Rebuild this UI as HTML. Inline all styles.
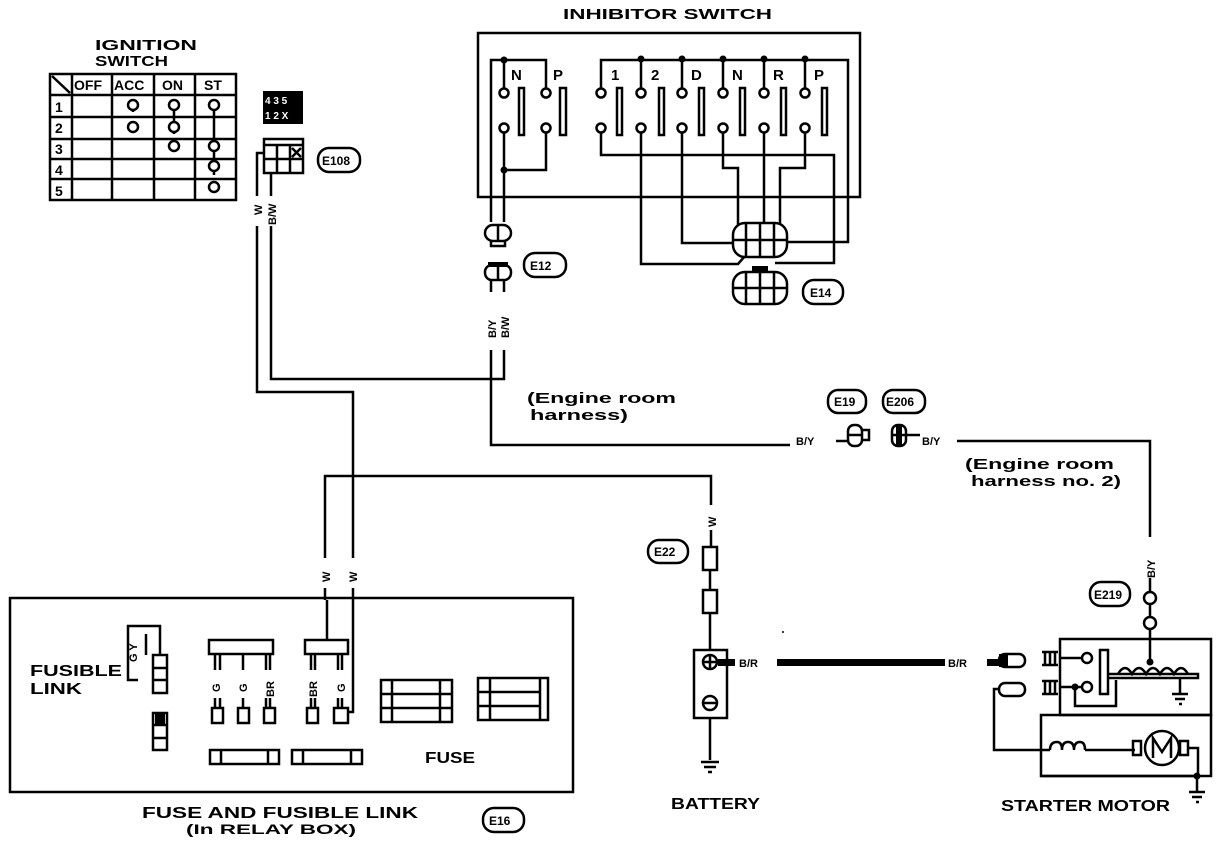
<!DOCTYPE html>
<html><head><meta charset="utf-8"><style>
html,body{margin:0;padding:0;background:#fff}
svg{display:block}
text{font-family:"Liberation Sans",sans-serif;font-weight:bold;fill:#000}
</style></head><body>
<svg width="1232" height="844" viewBox="0 0 1232 844" xmlns="http://www.w3.org/2000/svg">
<g fill="none" stroke="#000" stroke-width="2.5">
<!-- ignition table -->
<rect x="50" y="74" width="186" height="126"/>
<path d="M72 74V200M112 74V200M154 74V200M195 74V200M50 95H236M50 117H236M50 139H236M50 159H236M50 179H236M52 76L70 93"/>
<path d="M133 100V112M174 100V134M214 100V175"/>
<circle cx="133" cy="105" r="5" fill="#fff"/><circle cx="133" cy="127" r="5" fill="#fff"/>
<circle cx="174" cy="105" r="5" fill="#fff"/><circle cx="174" cy="127" r="5" fill="#fff"/><circle cx="174" cy="146" r="5" fill="#fff"/>
<circle cx="214" cy="105" r="5" fill="#fff"/><circle cx="214" cy="146" r="5" fill="#fff"/><circle cx="214" cy="166" r="5" fill="#fff"/><circle cx="214" cy="187" r="5" fill="#fff"/>
<!-- E108 -->
<rect x="264" y="139" width="39" height="34"/><path d="M264 145H303M277 145V173M290 145V173M264 159H303M292 148L301 157M301 148L292 157"/>
<path d="M264 153H257V392H353V600M271 173V379H504V350M491 350V445H790"/>
<rect x="318" y="148" width="42" height="24" rx="11"/>
<!-- inhibitor -->
<rect x="478" y="33" width="382" height="164"/>
<path d="M491 222V60H546V88M504 60V88M504 133V170H546V133M504 170V222"/>
<rect x="519" y="88" width="5" height="47"/><rect x="560" y="88" width="6" height="47"/>
<path d="M601 88V60H848V242H785M641 60V88M682 60V88M723 60V88M764 60V88M805 60V88"/>
<path d="M601 132V155H834V263H775M641 132V264H738L745 256M682 132V243H735M723 132V168H738V225M764 132V225M805 132V168H780V225"/>
<rect x="617" y="88" width="5" height="47"/><rect x="659" y="88" width="5" height="47"/><rect x="699" y="88" width="5" height="47"/><rect x="740" y="88" width="5" height="47"/><rect x="781" y="88" width="5" height="47"/><rect x="822" y="88" width="5" height="47"/>
<g fill="#fff"><circle cx="504" cy="93" r="4.5"/><circle cx="546" cy="93" r="4.5"/><circle cx="504" cy="128" r="4.5"/><circle cx="546" cy="128" r="4.5"/>
<circle cx="601" cy="93" r="4.5"/><circle cx="641" cy="93" r="4.5"/><circle cx="682" cy="93" r="4.5"/><circle cx="723" cy="93" r="4.5"/><circle cx="764" cy="93" r="4.5"/><circle cx="805" cy="93" r="4.5"/>
<circle cx="601" cy="128" r="4.5"/><circle cx="641" cy="128" r="4.5"/><circle cx="682" cy="128" r="4.5"/><circle cx="723" cy="128" r="4.5"/><circle cx="764" cy="128" r="4.5"/><circle cx="805" cy="128" r="4.5"/></g>
<!-- E12 -->
<rect x="485" y="225" width="26" height="16" rx="8" fill="#fff"/><path d="M498 225V241M491 241V246H505V241"/>
<rect x="485" y="265" width="26" height="15" rx="7" fill="#fff"/><path d="M498 265V280M491 280V292M504 280V292"/>
<rect x="524" y="253" width="42" height="24" rx="11"/>
<!-- E14 -->
<rect x="733" y="223" width="54" height="34" rx="12" fill="#fff"/><path d="M746 223V257M760 223V257M774 223V257M733 240H787"/>
<rect x="733" y="272" width="54" height="32" rx="12"/><path d="M746 272V304M760 272V304M774 272V304M733 288H787"/>
<rect x="803" y="280" width="40" height="24" rx="11"/>
<!-- engine room -->
<path d="M957 441H1150V537M1150 578V592M1150 604V616M1150 628V660"/>
<rect x="828" y="390" width="38" height="23" rx="10"/><rect x="883" y="390" width="42" height="23" rx="10"/>
<rect x="848" y="425" width="14" height="21" rx="6"/><path d="M848 435H862M862 430H869V440H862"/>
<rect x="892" y="425" width="14" height="21" rx="6"/><path d="M892 435H906H920"/>
<path d="M836 441H848"/>
<!-- E219 -->
<rect x="1090" y="582" width="40" height="24" rx="11"/>
<circle cx="1150" cy="598" r="6"/><circle cx="1150" cy="623" r="6"/>
<!-- W to battery -->
<path d="M325 600V476H711V505M711 530V547M710 570V590M710 613V650M710 718V760"/>
<rect x="648" y="540" width="40" height="23" rx="11"/>
<rect x="703" y="547" width="14" height="23"/><rect x="703" y="590" width="14" height="23"/>
<rect x="694" y="650" width="33" height="68"/>
<circle cx="710" cy="662" r="7"/><path d="M703 662H717M710 655V669"/>
<circle cx="710" cy="703" r="7"/><path d="M703 703H717"/>
<path d="M701 762H719M704 767H716M708 772H712"/>
<!-- starter -->
<rect x="1060" y="639" width="151" height="76"/><rect x="1041" y="715" width="170" height="61"/>
<path d="M1042 652H1058M1042 665H1058M1045 652V665M1050 652V665M1055 652V665"/>
<path d="M1042 681H1058M1042 694H1058M1045 681V694M1050 681V694M1055 681V694"/>
<path d="M1060 658H1082M1060 687H1082M1075 687V706H1116V680"/>
<circle cx="1087" cy="658" r="5"/><circle cx="1087" cy="687" r="5"/>
<rect x="1100" y="650" width="8" height="44"/><path d="M1108 674H1198V678H1108"/>
<path d="M1118 674Q1125 662 1132 674Q1139 662 1146 674Q1153 662 1160 674Q1167 662 1174 674Q1181 662 1188 674"/>
<path d="M1180 678V694M1172 694H1188M1175 699H1185M1179 704H1182"/>
<rect x="999" y="654" width="26" height="13" rx="6"/><rect x="999" y="683" width="26" height="13" rx="6"/>
<path d="M999 689H994V750H1050M1085 750H1135M1188 748H1198V776H1041M1197 776V792M1189 792H1205M1192 797H1202M1196 802H1199"/>
<path d="M1050 750Q1050 742 1057 742Q1062 742 1062 750M1062 750Q1062 742 1068 742Q1074 742 1074 750M1074 750Q1074 742 1080 742Q1085 742 1085 750"/>
<circle cx="1162" cy="748" r="17"/><rect x="1133" y="741" width="8" height="14"/><rect x="1180" y="741" width="8" height="14"/>
<path d="M1153 758V738L1162 752L1171 738V758"/>
<!-- fuse box -->
<rect x="10" y="598" width="563" height="194"/>
<path d="M327 600V640M353 600V712H348"/>
<path d="M138 680H128V626H160V655M146 655V634"/>
<rect x="153" y="655" width="14" height="38"/><path d="M153 668H167M153 680H167"/>
<rect x="153" y="713" width="14" height="37"/><path d="M153 725H167M153 738H167"/>
<rect x="209" y="640" width="64" height="14"/><rect x="305" y="640" width="43" height="14"/>
<path d="M215 654V670M220 654V670M243 654V670M270 654V670M266 654V670M311 654V670M315 654V670M338 654V670M342 654V670"/>
<path d="M215 698V708M220 698V708M243 698V708M270 698V708M266 698V708M311 698V708M315 698V708M338 698V708M342 698V708"/>
<rect x="212" y="708" width="11" height="15"/><rect x="238" y="708" width="11" height="15"/><rect x="264" y="708" width="11" height="15"/><rect x="307" y="708" width="11" height="15"/><rect x="334" y="708" width="14" height="15"/>
<rect x="381" y="680" width="71" height="42"/><path d="M381 694H452M381 708H452M392 680V722M440 680V722"/>
<rect x="478" y="678" width="70" height="42"/><path d="M478 692H540M478 706H540M490 678V720M540 678V720"/>
<rect x="210" y="750" width="69" height="14"/><path d="M221 750V764M268 750V764"/>
<rect x="292" y="750" width="70" height="14"/><path d="M303 750V764M351 750V764"/>
<rect x="483" y="808" width="41" height="24" rx="11"/>
</g>
<!-- solid items -->
<rect x="263" y="91" width="40" height="33"/>
<text x="265" y="104" font-size="10" style="fill:#fff">4 3 5</text>
<text x="265" y="119" font-size="10" style="fill:#fff">1 2 X</text>
<rect x="488" y="262" width="20" height="5"/><rect x="752" y="266" width="16" height="6"/>
<path d="M718 659H1000V666H718Z"/>
<rect x="999" y="654" width="9" height="13"/>
<circle cx="504" cy="60" r="3.5"/><circle cx="504" cy="170" r="3.5"/>
<circle cx="641" cy="59" r="3.5"/><circle cx="682" cy="59" r="3.5"/><circle cx="723" cy="59" r="3.5"/><circle cx="764" cy="59" r="3.5"/><circle cx="805" cy="59" r="3.5"/>
<circle cx="1150" cy="662" r="3.5"/><circle cx="1075" cy="687" r="3.5"/><circle cx="1197" cy="776" r="3.5"/>
<rect x="896" y="425" width="6" height="21"/>
<rect x="155" y="714" width="10" height="10"/>
<!-- white gaps for labels -->
<g fill="#fff">
<rect x="735" y="655" width="42" height="15"/><rect x="945" y="655" width="42" height="15"/>
<rect x="250" y="196" width="28" height="30"/>
<rect x="318" y="558" width="42" height="30"/>
<rect x="704" y="508" width="14" height="20"/>
</g>
<!-- text -->
<text x="95" y="50" font-size="15" textLength="102" lengthAdjust="spacingAndGlyphs">IGNITION</text>
<text x="95" y="66" font-size="15" textLength="73" lengthAdjust="spacingAndGlyphs">SWITCH</text>
<g font-size="14"><text x="74" y="90">OFF</text><text x="114" y="90">ACC</text><text x="162" y="90">ON</text><text x="204" y="90">ST</text>
<text x="55" y="112">1</text><text x="55" y="133">2</text><text x="55" y="154">3</text><text x="55" y="175">4</text><text x="55" y="196">5</text></g>
<text x="322" y="165" font-size="12">E108</text>
<text x="563" y="19" font-size="15" textLength="209" lengthAdjust="spacingAndGlyphs">INHIBITOR SWITCH</text>
<g font-size="15"><text x="511" y="80">N</text><text x="553" y="80">P</text><text x="611" y="80">1</text><text x="651" y="80">2</text><text x="691" y="80">D</text><text x="732" y="80">N</text><text x="773" y="80">R</text><text x="814" y="80">P</text></g>
<text x="530" y="270" font-size="12">E12</text>
<text x="810" y="297" font-size="12">E14</text>
<text x="834" y="406" font-size="12">E19</text>
<text x="886" y="406" font-size="12">E206</text>
<text x="654" y="556" font-size="12">E22</text>
<text x="1094" y="599" font-size="12">E219</text>
<text x="489" y="825" font-size="12">E16</text>
<text x="527" y="403" font-size="15" textLength="149" lengthAdjust="spacingAndGlyphs">(Engine room</text>
<text x="530" y="420" font-size="15" textLength="98" lengthAdjust="spacingAndGlyphs">harness)</text>
<text x="965" y="469" font-size="15" textLength="149" lengthAdjust="spacingAndGlyphs">(Engine room</text>
<text x="971" y="486" font-size="15" textLength="150" lengthAdjust="spacingAndGlyphs">harness no. 2)</text>
<g font-size="11"><text x="796" y="445">B/Y</text><text x="922" y="445">B/Y</text><text x="739" y="667">B/R</text><text x="948" y="667">B/R</text></g>
<g font-size="11">
<text transform="translate(262,215) rotate(-90)">W</text>
<text transform="translate(276,225) rotate(-90)">B/W</text>
<text transform="translate(496,338) rotate(-90)">B/Y</text>
<text transform="translate(509,338) rotate(-90)">B/W</text>
<text transform="translate(716,527) rotate(-90)">W</text>
<text transform="translate(330,582) rotate(-90)">W</text>
<text transform="translate(357,582) rotate(-90)">W</text>
<text transform="translate(1155,578) rotate(-90)">B/Y</text>
<text transform="translate(137,662) rotate(-90)">G Y</text>
<text transform="translate(220,692) rotate(-90)">G</text>
<text transform="translate(247,692) rotate(-90)">G</text>
<text transform="translate(274,697) rotate(-90)">BR</text>
<text transform="translate(317,697) rotate(-90)">BR</text>
<text transform="translate(345,692) rotate(-90)">G</text>
</g>
<text x="30" y="676" font-size="16" textLength="92" lengthAdjust="spacingAndGlyphs">FUSIBLE</text>
<text x="30" y="694" font-size="16" textLength="52" lengthAdjust="spacingAndGlyphs">LINK</text>
<text x="425" y="763" font-size="16" textLength="50" lengthAdjust="spacingAndGlyphs">FUSE</text>
<text x="142" y="818" font-size="16" textLength="276" lengthAdjust="spacingAndGlyphs">FUSE AND FUSIBLE LINK</text>
<text x="186" y="834" font-size="14" textLength="170" lengthAdjust="spacingAndGlyphs">(In RELAY BOX)</text>
<text x="671" y="809" font-size="16" textLength="89" lengthAdjust="spacingAndGlyphs">BATTERY</text>
<text x="1001" y="811" font-size="16" textLength="169" lengthAdjust="spacingAndGlyphs">STARTER MOTOR</text>
<circle cx="783" cy="632" r="1"/>
</svg>
</body></html>
